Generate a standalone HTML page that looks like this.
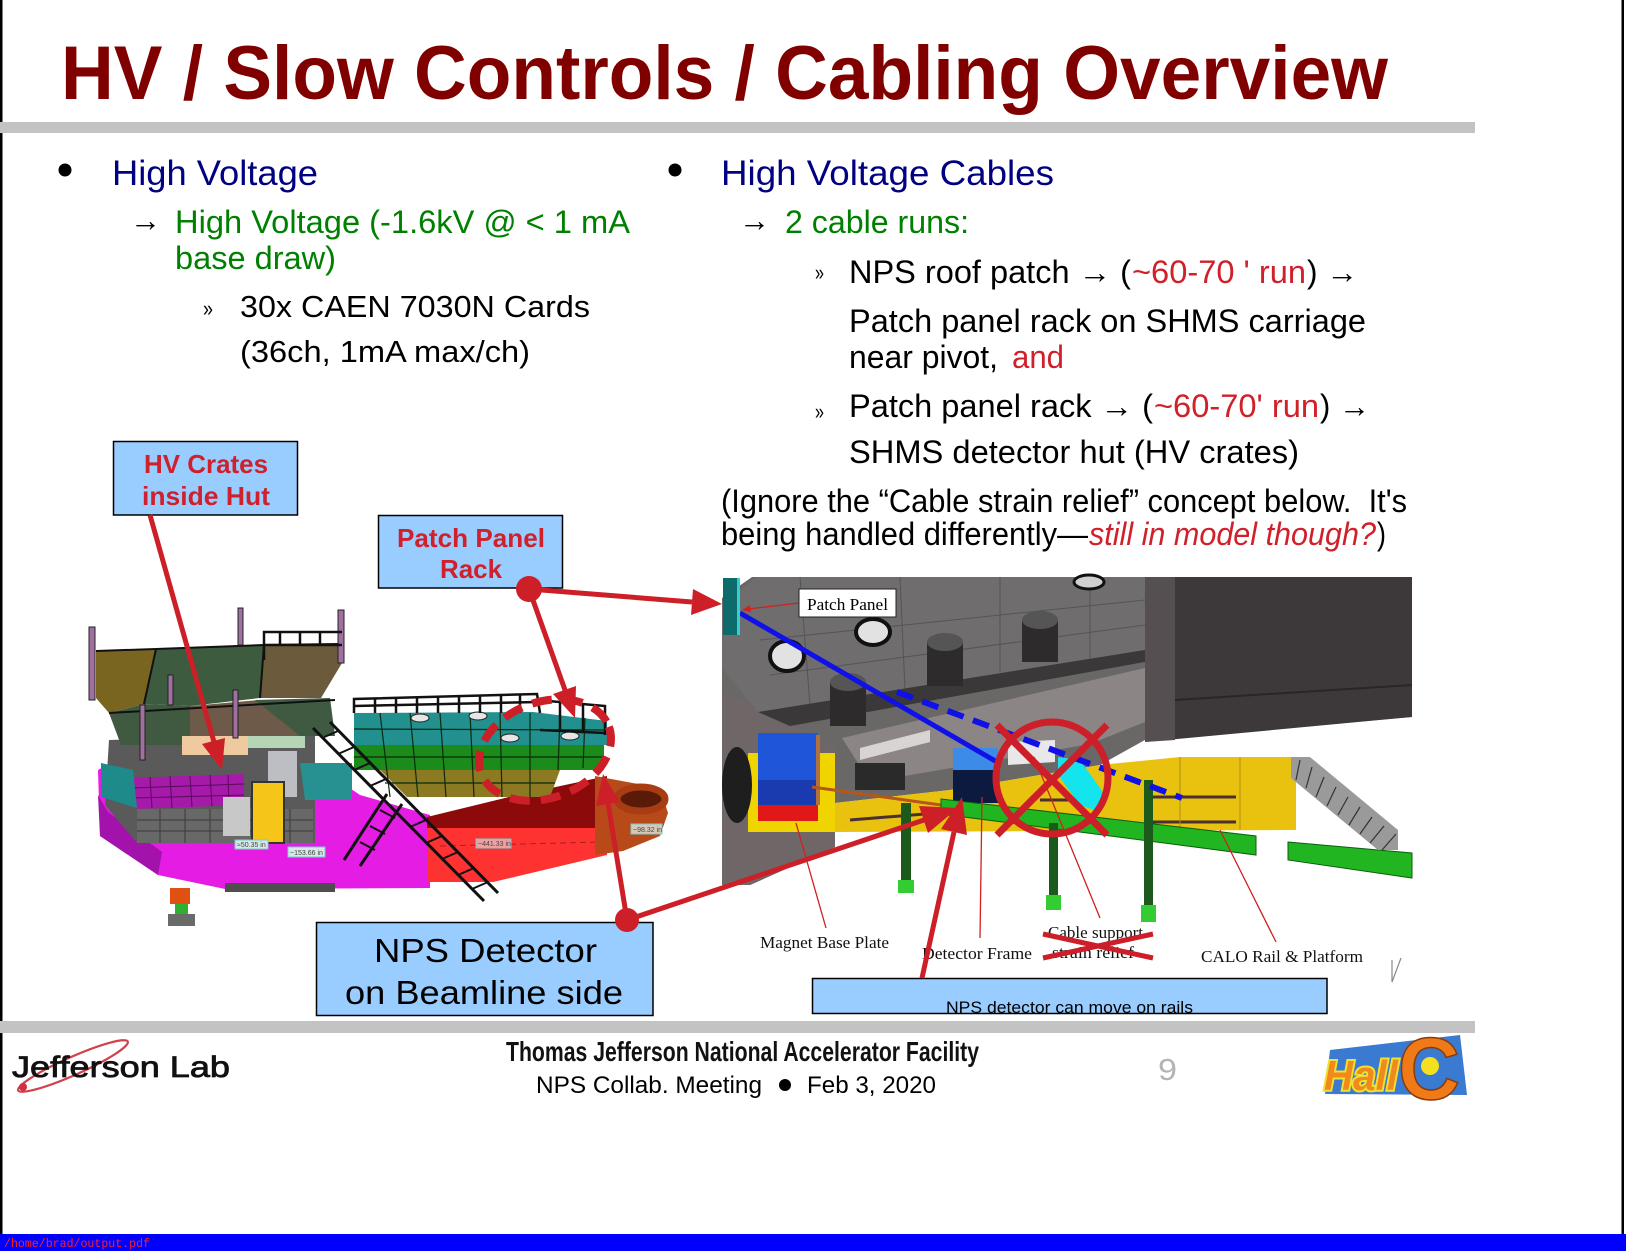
<!DOCTYPE html>
<html><head><meta charset="utf-8"><style>
html,body{margin:0;padding:0;background:#fff;}
svg{display:block;}
text{font-family:"Liberation Sans",Arial,sans-serif;}
.sf{font-family:"Liberation Serif","Times New Roman",serif;}
.mo{font-family:"Liberation Mono",monospace;}
</style></head><body>
<svg width="1626" height="1251" viewBox="0 0 1626 1251" xmlns="http://www.w3.org/2000/svg">
<rect width="1626" height="1251" fill="#fff"/>
<rect x="0" y="0" width="2.5" height="1234" fill="#000"/>
<rect x="1621.5" y="0" width="2.5" height="1234" fill="#000"/>

<!-- Title -->
<text x="61" y="99" font-size="76" font-weight="bold" fill="#800000" textLength="1327" lengthAdjust="spacingAndGlyphs">HV / Slow Controls / Cabling Overview</text>
<rect x="0" y="122" width="1475" height="11" fill="#c3c3c3"/>

<!-- Left column text -->
<circle cx="65" cy="170" r="6.5" fill="#000"/>
<text x="112" y="185" font-size="35" fill="#000080" textLength="206" lengthAdjust="spacingAndGlyphs">High Voltage</text>
<text x="130" y="231" font-size="32" fill="#000" textLength="31" lengthAdjust="spacingAndGlyphs">→</text>
<text x="175" y="233" font-size="32" fill="#008000" textLength="455" lengthAdjust="spacingAndGlyphs">High Voltage (-1.6kV @ &lt; 1 mA</text>
<text x="175" y="269" font-size="32" fill="#008000" textLength="161" lengthAdjust="spacingAndGlyphs">base draw)</text>
<text x="203" y="316" font-size="22" fill="#000" textLength="10" lengthAdjust="spacingAndGlyphs">»</text>
<text x="240" y="317" font-size="31" fill="#000" textLength="350" lengthAdjust="spacingAndGlyphs">30x CAEN 7030N Cards</text>
<text x="240" y="362" font-size="31" fill="#000" textLength="290" lengthAdjust="spacingAndGlyphs">(36ch, 1mA max/ch)</text>

<!-- Right column text -->
<circle cx="675" cy="170" r="6.5" fill="#000"/>
<text x="721" y="185" font-size="35" fill="#000080" textLength="333" lengthAdjust="spacingAndGlyphs">High Voltage Cables</text>
<text x="739" y="231" font-size="32" fill="#000" textLength="31" lengthAdjust="spacingAndGlyphs">→</text>
<text x="785" y="233" font-size="32" fill="#008000" textLength="184" lengthAdjust="spacingAndGlyphs">2 cable runs:</text>
<text x="815" y="280" font-size="22" fill="#000" textLength="9" lengthAdjust="spacingAndGlyphs">»</text>
<text x="849" y="283" font-size="32" fill="#000" textLength="282" lengthAdjust="spacingAndGlyphs">NPS roof patch → (</text>
<text x="1132" y="283" font-size="32" fill="#d0202a" textLength="174" lengthAdjust="spacingAndGlyphs">~60-70 ' run</text>
<text x="1307" y="283" font-size="32" fill="#000" textLength="51" lengthAdjust="spacingAndGlyphs">) →</text>
<text x="849" y="332" font-size="32" fill="#000" textLength="517" lengthAdjust="spacingAndGlyphs">Patch panel rack on SHMS carriage</text>
<text x="849" y="368" font-size="32" fill="#000" textLength="149" lengthAdjust="spacingAndGlyphs">near pivot,</text>
<text x="1012" y="368" font-size="32" fill="#d0202a" textLength="52" lengthAdjust="spacingAndGlyphs">and</text>
<text x="815" y="419" font-size="22" fill="#000" textLength="9" lengthAdjust="spacingAndGlyphs">»</text>
<text x="849" y="417" font-size="32" fill="#000" textLength="304" lengthAdjust="spacingAndGlyphs">Patch panel rack → (</text>
<text x="1154" y="417" font-size="32" fill="#d0202a" textLength="165" lengthAdjust="spacingAndGlyphs">~60-70' run</text>
<text x="1320" y="417" font-size="32" fill="#000" textLength="50" lengthAdjust="spacingAndGlyphs">) →</text>
<text x="849" y="463" font-size="32" fill="#000" textLength="450" lengthAdjust="spacingAndGlyphs">SHMS detector hut (HV crates)</text>
<text x="721" y="512" font-size="32" fill="#000" textLength="686" lengthAdjust="spacingAndGlyphs">(Ignore the “Cable strain relief” concept below.&#160; It's</text>
<text x="721" y="545" font-size="32" fill="#000" textLength="367" lengthAdjust="spacingAndGlyphs">being handled differently—</text>
<text x="1089" y="545" font-size="32" font-style="italic" fill="#d0202a" textLength="287" lengthAdjust="spacingAndGlyphs">still in model though?</text>
<text x="1377" y="545" font-size="32" fill="#000" textLength="9" lengthAdjust="spacingAndGlyphs">)</text>

<!-- ================= LEFT RENDER (hut) ================= -->
<g>
<polygon points="98,770 100,836 158,875 225,889 430,888 430,815 360,795 320,768 200,762 120,758" fill="#e41ce4"/>
<polygon points="98,795 100,836 158,875 162,852 108,812" fill="#a412ac"/>
<rect x="225" y="883" width="110" height="9" fill="#4e4e4e"/>
<polygon points="109,740 315,735 315,843 137,843 105,805" fill="#5a5a5a"/>
<rect x="137" y="809" width="176" height="34" fill="#686868"/>
<g stroke="#3a3a3a" stroke-width="1">
<line x1="137" y1="820" x2="313" y2="820"/><line x1="137" y1="831" x2="313" y2="831"/>
<line x1="160" y1="809" x2="160" y2="843"/><line x1="185" y1="809" x2="185" y2="843"/><line x1="210" y1="809" x2="210" y2="843"/><line x1="290" y1="809" x2="290" y2="843"/>
</g>
<polygon points="129,778 244,774 244,805 137,809" fill="#a61aaa"/>
<g stroke="#5a0a5a" stroke-width="1">
<line x1="131" y1="788" x2="244" y2="784"/><line x1="134" y1="798" x2="244" y2="795"/>
<line x1="150" y1="777" x2="152" y2="808"/><line x1="170" y1="776" x2="172" y2="808"/><line x1="190" y1="776" x2="192" y2="807"/><line x1="210" y1="775" x2="212" y2="806"/><line x1="228" y1="775" x2="229" y2="806"/>
</g>
<polygon points="101,763 133,770 137,808 101,797" fill="#1f8a8a"/>
<polygon points="300,763 352,763 352,800 305,800" fill="#279191"/>
<rect x="223" y="797" width="27" height="39" fill="#c8c8c8"/>
<rect x="268" y="751" width="29" height="46" fill="#bdbdc4"/>
<rect x="252" y="782" width="32" height="61" fill="#f5c518" stroke="#333" stroke-width="2"/>
<!-- roof -->
<polygon points="96,651 156,649 144,704 109,713 96,698" fill="#7a6520"/>
<polygon points="156,649 264,645 260,698 190,706 144,704" fill="#3d5b3f"/>
<polygon points="264,645 338,644 342,663 321,698 260,698" fill="#6b5b3c"/>
<polygon points="109,713 144,704 190,706 190,745 121,745" fill="#3f5a40"/>
<polygon points="190,706 260,700 305,702 305,736 190,736" fill="#6e5a48"/>
<polygon points="255,700 330,698 335,736 300,736" fill="#3f5a40"/>
<rect x="182" y="736" width="66" height="19" fill="#efc9a0"/>
<rect x="248" y="736" width="57" height="12" fill="#b5d6b5"/>
<g stroke="#111" stroke-width="2" fill="none">
<polyline points="96,651 156,649 264,645 338,644"/>
<line x1="109" y1="713" x2="335" y2="700"/>
<line x1="144" y1="704" x2="156" y2="649"/>
<line x1="260" y1="698" x2="264" y2="645"/>
</g>
<!-- posts -->
<g stroke="#222" stroke-width="1">
<rect x="89" y="627" width="6" height="73" fill="#a070a0"/>
<rect x="238" y="608" width="5" height="37" fill="#a070a0"/>
<rect x="338" y="610" width="6" height="53" fill="#a070a0"/>
<rect x="140" y="705" width="5" height="55" fill="#a070a0"/>
<rect x="233" y="690" width="5" height="48" fill="#a070a0"/>
<rect x="168" y="675" width="5" height="30" fill="#a070a0"/>
</g>
<g stroke="#111" stroke-width="2.5" fill="none">
<polyline points="264,660 264,632 342,632"/>
<line x1="280" y1="632" x2="280" y2="645"/><line x1="300" y1="632" x2="300" y2="645"/><line x1="320" y1="632" x2="320" y2="645"/>
<line x1="264" y1="645" x2="342" y2="645"/>
</g>
<!-- red platform -->
<polygon points="427,817 509,797 607,776 607,828 427,828" fill="#8c0a0a"/>
<polygon points="427,828 607,828 607,855 493,882 427,882" fill="#ff3232"/>
<line x1="440" y1="846" x2="600" y2="842" stroke="#aa2020" stroke-width="1" stroke-dasharray="6 4"/>
<!-- brown end -->
<polygon points="595,776 660,788 668,813 660,836 623,851 595,855" fill="#b84a1a"/>
<ellipse cx="641" cy="799" rx="24" ry="12" fill="#5a1a08" stroke="#a83c12" stroke-width="7"/>
<!-- deck -->
<polygon points="354,713 533,712 607,721 607,745 354,745" fill="#21908e"/>
<rect x="354" y="745" width="250" height="25" fill="#1b8c1b"/>
<polygon points="380,770 560,770 550,797 407,797" fill="#8c7a22"/>
<g stroke="#0c2a0c" stroke-width="1.2">
<line x1="354" y1="729" x2="607" y2="730"/><line x1="354" y1="757" x2="604" y2="757"/><line x1="385" y1="783" x2="555" y2="783"/>
<line x1="380" y1="713" x2="390" y2="797"/><line x1="410" y1="713" x2="418" y2="797"/><line x1="440" y1="713" x2="446" y2="797"/><line x1="470" y1="713" x2="474" y2="797"/><line x1="500" y1="713" x2="502" y2="797"/><line x1="530" y1="713" x2="530" y2="797"/><line x1="560" y1="716" x2="558" y2="770"/><line x1="585" y1="718" x2="583" y2="768"/>
</g>
<g fill="#e6e6e6" stroke="#222" stroke-width="1">
<ellipse cx="420" cy="718" rx="9" ry="4"/><ellipse cx="478" cy="716" rx="9" ry="4"/><ellipse cx="510" cy="738" rx="9" ry="4"/><ellipse cx="570" cy="736" rx="9" ry="4"/>
</g>
<!-- deck railings -->
<g stroke="#111" stroke-width="2.5" fill="none">
<polyline points="354,713 354,699 537,694 540,713"/>
<line x1="354" y1="706" x2="538" y2="702"/>
<line x1="375" y1="699" x2="375" y2="713"/><line x1="396" y1="698" x2="396" y2="713"/><line x1="417" y1="698" x2="417" y2="713"/><line x1="438" y1="697" x2="438" y2="713"/><line x1="459" y1="697" x2="459" y2="713"/><line x1="480" y1="696" x2="480" y2="713"/><line x1="501" y1="696" x2="501" y2="713"/><line x1="520" y1="695" x2="520" y2="713"/>
<polyline points="537,700 605,706 605,735"/>
<line x1="560" y1="702" x2="560" y2="730"/><line x1="583" y1="704" x2="583" y2="732"/>
<line x1="540" y1="730" x2="605" y2="733"/>
</g>
<!-- stairs -->
<g stroke="#111" stroke-width="3">
<line x1="313" y1="728" x2="484" y2="901"/><line x1="330" y1="722" x2="498" y2="893"/>
<line x1="387" y1="794" x2="344" y2="860"/><line x1="402" y1="804" x2="360" y2="866"/>
</g>
<g stroke="#111" stroke-width="2">
<line x1="322" y1="738" x2="338" y2="731"/><line x1="338" y1="754" x2="354" y2="747"/><line x1="354" y1="770" x2="370" y2="763"/><line x1="370" y1="786" x2="386" y2="779"/><line x1="410" y1="827" x2="426" y2="820"/><line x1="426" y1="843" x2="442" y2="836"/><line x1="442" y1="859" x2="458" y2="852"/><line x1="458" y1="875" x2="474" y2="868"/><line x1="472" y1="889" x2="488" y2="882"/>
<line x1="380" y1="810" x2="395" y2="818"/><line x1="370" y1="826" x2="385" y2="834"/><line x1="360" y1="842" x2="375" y2="850"/>
</g>
<rect x="170" y="888" width="20" height="16" fill="#e05010"/>
<rect x="175" y="904" width="13" height="10" fill="#30b030"/>
<rect x="168" y="914" width="27" height="12" fill="#6a6a6a"/>
<g font-size="7" fill="#444">
<rect x="235" y="840" width="33" height="9" fill="#d8e8e8" stroke="#7cc"/><text x="237" y="847">≈50.35 in</text>
<rect x="288" y="847" width="37" height="10" fill="#d8e8e8" stroke="#7cc"/><text x="290" y="855">~153.66 in</text>
<rect x="476" y="839" width="35" height="9" fill="#f0a0a0" stroke="#7cc"/><text x="478" y="846">~441.33 in</text>
<rect x="631" y="824" width="31" height="10" fill="#d8c8b8" stroke="#7cc"/><text x="633" y="832">~98.32 in</text>
</g>
</g>

<!-- ================= RIGHT RENDER ================= -->
<g>
<polygon points="722,577 1412,577 1412,717 1145,740 1100,765 950,790 835,803 835,847 750,885 722,885" fill="#6a6767"/>
<polygon points="722,690 835,745 835,847 750,885 722,885" fill="#6f6668"/>
<polygon points="757,577 1145,577 1145,650 758,712 722,668 722,605" fill="#6f6d6d"/>
<g stroke="#555" stroke-width="1">
<line x1="760" y1="640" x2="1145" y2="600"/><line x1="770" y1="675" x2="1145" y2="625"/>
<line x1="800" y1="577" x2="810" y2="705"/><line x1="900" y1="577" x2="905" y2="690"/><line x1="1000" y1="577" x2="1000" y2="672"/><line x1="1090" y1="577" x2="1090" y2="658"/>
</g>
<polygon points="722,577 752,577 722,598" fill="#fff"/>
<polygon points="758,712 1145,650 1145,662 790,726" fill="#3a3838"/>
<polygon points="842,738 1145,668 1145,722 1090,744 870,782" fill="#8b8585"/>
<polygon points="860,748 930,730 930,742 860,760" fill="#d8d4d4"/>
<polygon points="1145,577 1412,577 1412,717 1145,742" fill="#3d3839"/>
<polygon points="1145,577 1175,577 1175,740 1145,742" fill="#554f51"/>
<line x1="1175" y1="700" x2="1412" y2="685" stroke="#2a2627" stroke-width="2"/>
<!-- posts / openings -->
<g>
<rect x="830" y="682" width="36" height="44" fill="#2e2b2c"/><ellipse cx="848" cy="682" rx="18" ry="9" fill="#555"/>
<rect x="927" y="642" width="36" height="44" fill="#2e2b2c"/><ellipse cx="945" cy="642" rx="18" ry="9" fill="#555"/>
<rect x="1022" y="620" width="36" height="42" fill="#2e2b2c"/><ellipse cx="1040" cy="620" rx="18" ry="9" fill="#555"/>
<ellipse cx="787" cy="656" rx="17" ry="15" fill="#e2e2e2" stroke="#111" stroke-width="4"/>
<ellipse cx="873" cy="632" rx="17" ry="13" fill="#e2e2e2" stroke="#111" stroke-width="4"/>
<ellipse cx="1089" cy="582" rx="15" ry="7" fill="#d0d0d0" stroke="#111" stroke-width="3"/>
</g>
<rect x="855" y="763" width="50" height="27" fill="#2a2a2a"/>
<!-- yellow platform -->
<rect x="748" y="753" width="87" height="79" fill="#f0d400"/>
<polygon points="835,803 950,790 1100,765 1180,757 1296,757 1296,830 835,832" fill="#e8c20f"/>
<g stroke="#4a3030" stroke-width="3">
<line x1="1150" y1="797" x2="1236" y2="797"/><line x1="1150" y1="822" x2="1236" y2="822"/>
<line x1="850" y1="820" x2="950" y2="812"/><line x1="1040" y1="800" x2="1100" y2="800"/>
</g>
<g stroke="#b09010" stroke-width="1"><line x1="1240" y1="757" x2="1240" y2="830"/><line x1="1180" y1="757" x2="1180" y2="830"/></g>
<!-- magnet -->
<ellipse cx="737" cy="785" rx="15" ry="38" fill="#1e1e1e"/>
<rect x="758" y="733" width="60" height="75" fill="#1f55d8"/>
<rect x="758" y="780" width="60" height="28" fill="#1a3ab0"/>
<rect x="816" y="735" width="4" height="70" fill="#b07040"/>
<rect x="758" y="805" width="60" height="16" fill="#e01818"/>
<!-- detector -->
<rect x="953" y="748" width="45" height="55" fill="#0c1a40"/>
<rect x="953" y="748" width="45" height="22" fill="#3d8be8"/>
<polygon points="1008,742 1055,740 1055,762 1008,765" fill="#e8e8e8"/>
<polygon points="1058,757 1080,760 1105,795 1100,812 1080,805 1058,775" fill="#14e4ee"/>
<line x1="812" y1="787" x2="948" y2="806" stroke="#b5561c" stroke-width="3"/>
<!-- green rail -->
<polygon points="941,799 1256,836 1256,855 941,814" fill="#22b522" stroke="#0a600a" stroke-width="1"/>
<polygon points="1288,842 1412,853 1412,878 1288,860" fill="#22b522" stroke="#0a600a" stroke-width="1"/>
<!-- legs -->
<rect x="901" y="803" width="10" height="89" fill="#1b5a1b"/><rect x="898" y="880" width="16" height="13" fill="#33cc33"/>
<rect x="1049" y="823" width="9" height="82" fill="#1b5a1b"/><rect x="1046" y="895" width="15" height="15" fill="#33cc33"/>
<rect x="1144" y="780" width="9" height="135" fill="#1b5a1b"/><rect x="1141" y="905" width="15" height="17" fill="#33cc33"/>
<!-- stairs -->
<polygon points="1291,757 1310,757 1398,830 1398,850 1378,850 1291,778" fill="#9a9a9a"/>
<g stroke="#333" stroke-width="1.2">
<line x1="1300" y1="760" x2="1296" y2="780"/><line x1="1312" y1="767" x2="1306" y2="788"/><line x1="1324" y1="777" x2="1316" y2="797"/><line x1="1336" y1="787" x2="1327" y2="806"/><line x1="1348" y1="797" x2="1338" y2="815"/><line x1="1360" y1="807" x2="1349" y2="825"/><line x1="1372" y1="817" x2="1360" y2="834"/><line x1="1384" y1="826" x2="1370" y2="843"/><line x1="1396" y1="834" x2="1382" y2="850"/>
</g>
<!-- blue cable -->
<line x1="740" y1="613" x2="997" y2="762" stroke="#1010e8" stroke-width="5"/>
<line x1="897" y1="692" x2="1182" y2="798" stroke="#1010e8" stroke-width="6" stroke-dasharray="17 10"/>
<!-- patch panel -->
<rect x="723" y="578" width="17" height="57" fill="#0d6b6b"/>
<rect x="737" y="578" width="3" height="57" fill="#30d0d0"/>
<line x1="799" y1="603" x2="748" y2="609" stroke="#d02020" stroke-width="1.2"/>
<polygon points="742,610 750,605 751,612" fill="#d02020"/>
<rect x="799" y="589" width="97" height="28" fill="#fff" stroke="#222" stroke-width="1"/>
<text class="sf" x="807" y="610" font-size="17" fill="#000" textLength="81" lengthAdjust="spacingAndGlyphs">Patch Panel</text>
<!-- red circle X -->
<circle cx="1052" cy="778" r="56" fill="none" stroke="#cc1f2a" stroke-width="7"/>
<line x1="997" y1="725" x2="1107" y2="835" stroke="#cc1f2a" stroke-width="7"/>
<line x1="1107" y1="725" x2="997" y2="835" stroke="#cc1f2a" stroke-width="7"/>
<!-- leader lines -->
<g stroke="#d02020" stroke-width="1.3">
<line x1="826" y1="928" x2="796" y2="823"/>
<line x1="980" y1="938" x2="982" y2="797"/>
<line x1="1100" y1="918" x2="1034" y2="757"/>
<line x1="1276" y1="942" x2="1220" y2="830"/>
</g>
<!-- labels -->
<text class="sf" x="760" y="948" font-size="17" fill="#111" textLength="129" lengthAdjust="spacingAndGlyphs">Magnet Base Plate</text>
<text class="sf" x="922" y="959" font-size="17" fill="#111" textLength="110" lengthAdjust="spacingAndGlyphs">Detector Frame</text>
<text class="sf" x="1048" y="938" font-size="17" fill="#111" textLength="95" lengthAdjust="spacingAndGlyphs">Cable support</text>
<text class="sf" x="1052" y="958" font-size="17" fill="#111" textLength="82" lengthAdjust="spacingAndGlyphs">strain relief</text>
<text class="sf" x="1201" y="962" font-size="17" fill="#111" textLength="162" lengthAdjust="spacingAndGlyphs">CALO Rail &amp; Platform</text>
<line x1="1043" y1="934" x2="1153" y2="958" stroke="#cc1f2a" stroke-width="5"/>
<line x1="1043" y1="958" x2="1153" y2="934" stroke="#cc1f2a" stroke-width="5"/>
<g stroke="#888" stroke-width="1.2"><line x1="1392" y1="960" x2="1392" y2="982"/><line x1="1392" y1="982" x2="1401" y2="958"/></g>
</g>

<!-- rails box -->
<rect x="812.5" y="978.5" width="514.5" height="35" fill="#99ccff" stroke="#000" stroke-width="1.5"/>
<text x="946" y="1013" font-size="17" fill="#000" textLength="247" lengthAdjust="spacingAndGlyphs">NPS detector can move on rails</text>

<!-- Callout boxes -->
<rect x="113.5" y="441.5" width="184" height="73.5" fill="#99ccff" stroke="#000" stroke-width="1.5"/>
<text x="144" y="473" font-size="26" font-weight="bold" fill="#d0202c" textLength="124" lengthAdjust="spacingAndGlyphs">HV Crates</text>
<text x="142" y="505" font-size="26" font-weight="bold" fill="#d0202c" textLength="128" lengthAdjust="spacingAndGlyphs">inside Hut</text>

<rect x="378.5" y="515.5" width="184" height="72.5" fill="#99ccff" stroke="#000" stroke-width="1.5"/>
<text x="397" y="547" font-size="26" font-weight="bold" fill="#d0202c" textLength="148" lengthAdjust="spacingAndGlyphs">Patch Panel</text>
<text x="440" y="578" font-size="26" font-weight="bold" fill="#d0202c" textLength="62" lengthAdjust="spacingAndGlyphs">Rack</text>

<rect x="316.5" y="922.5" width="336.5" height="93" fill="#99ccff" stroke="#000" stroke-width="1.5"/>
<text x="374" y="962" font-size="33" fill="#000" textLength="223" lengthAdjust="spacingAndGlyphs">NPS Detector</text>
<text x="345" y="1004" font-size="33" fill="#000" textLength="278" lengthAdjust="spacingAndGlyphs">on Beamline side</text>

<!-- Red arrows -->
<g stroke="#cc1f27" stroke-width="5" fill="none">
<line x1="150" y1="515" x2="214" y2="742"/>
<line x1="529" y1="589" x2="692" y2="602"/>
<line x1="529" y1="589" x2="565" y2="690"/>
<line x1="627" y1="920" x2="608" y2="803"/>
<line x1="627" y1="920" x2="924" y2="820"/>
<line x1="922" y1="978" x2="954" y2="832"/>
<ellipse cx="545" cy="750" rx="68" ry="48" transform="rotate(-20 545 750)" stroke-width="8" stroke-dasharray="20 11"/>
</g>
<g fill="#cc1f27">
<polygon points="222,770 202,744 225,738"/>
<polygon points="722,604 691,615 693,589"/>
<polygon points="575,718 553,694 576,686"/>
<polygon points="603,774 620,802 596,806"/>
<polygon points="958,808 928,833 919,806"/>
<polygon points="962,797 967,835 941,829"/>
<circle cx="529" cy="589" r="13"/>
<circle cx="627" cy="920" r="12"/>
</g>

<!-- Footer -->
<rect x="0" y="1021" width="1475" height="12" fill="#c3c3c3"/>
<ellipse cx="73" cy="1066" rx="60" ry="9" transform="rotate(-24 73 1066)" fill="none" stroke="#c8202c" stroke-width="2.2" opacity="0.85"/>
<circle cx="23" cy="1087" r="4" fill="#d03040"/>
<text x="12" y="1077" font-size="30" fill="#111" stroke="#111" stroke-width="0.8" textLength="218" lengthAdjust="spacingAndGlyphs">Jefferson Lab</text>
<text x="506" y="1061" font-size="28" font-weight="bold" fill="#111" textLength="473" lengthAdjust="spacingAndGlyphs">Thomas Jefferson National Accelerator Facility</text>
<text x="536" y="1093" font-size="24" fill="#000" textLength="226" lengthAdjust="spacingAndGlyphs">NPS Collab. Meeting</text>
<circle cx="785" cy="1085" r="6" fill="#000"/>
<text x="807" y="1093" font-size="24" fill="#000" textLength="129" lengthAdjust="spacingAndGlyphs">Feb 3, 2020</text>
<text x="1158" y="1080" font-size="31" fill="#b4b4b4" textLength="19" lengthAdjust="spacingAndGlyphs">9</text>
<!-- Hall C logo -->
<polygon points="1330,1050 1460,1035 1467,1095 1325,1094" fill="#3a7ad0"/>
<text x="1324" y="1090" font-size="42" font-weight="bold" font-style="italic" fill="#f08a1c" stroke="#f2e030" stroke-width="4" paint-order="stroke" textLength="74" lengthAdjust="spacingAndGlyphs">Hall</text>
<circle cx="1430" cy="1066" r="9" fill="#f5e020"/>
<text x="1398" y="1099" font-size="88" font-weight="bold" fill="#f07a18" stroke="#8a3a08" stroke-width="1.5" textLength="62" lengthAdjust="spacingAndGlyphs">C</text>

<!-- bottom bar -->
<rect x="0" y="1234" width="1626" height="17" fill="#0000ff"/>
<text class="mo" x="4" y="1247" font-size="12" fill="#ff2020" textLength="146" lengthAdjust="spacingAndGlyphs">/home/brad/output.pdf</text>
</svg>
</body></html>
